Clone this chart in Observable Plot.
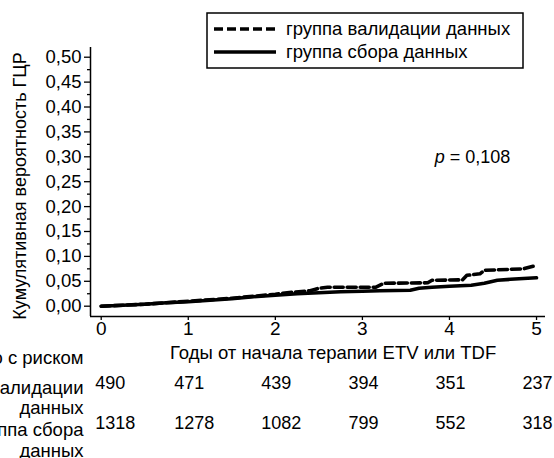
<!DOCTYPE html>
<html><head><meta charset="utf-8">
<script src="https://cdn.jsdelivr.net/npm/d3@7"></script>
<script src="https://cdn.jsdelivr.net/npm/@observablehq/plot@0.6"></script>
<style>
body{margin:0;background:#fff}
svg{font-family:"Liberation Sans",Arial,sans-serif}
</style>
</head><body><div id="chart"></div>
<script>
// ---- data ----
const seriesNames = ["группа валидации данных", "группа сбора данных"];
const validationT = [0, 0.5, 1.0, 1.5, 2.0, 2.2, 2.4, 2.5, 2.6, 3.15, 3.25, 3.75, 3.8, 4.15, 4.2, 4.35, 4.4, 4.85, 5.0];
const validationV = [0, 0.004, 0.010, 0.016, 0.024, 0.028, 0.031, 0.036, 0.038, 0.038, 0.046, 0.047, 0.052, 0.053, 0.062, 0.065, 0.072, 0.075, 0.082];
const collectionT = [0, 0.25, 0.5, 0.75, 1.0, 1.25, 1.5, 1.75, 2.0, 2.25, 2.5, 2.75, 3.0, 3.2, 3.55, 3.65, 3.8, 4.0, 4.25, 4.4, 4.55, 4.7, 5.0];
const collectionV = [0, 0.002, 0.004, 0.007, 0.009, 0.012, 0.015, 0.019, 0.022, 0.025, 0.027, 0.029, 0.030, 0.031, 0.032, 0.036, 0.038, 0.040, 0.042, 0.046, 0.052, 0.054, 0.057];
const riskYears = [0, 1, 2, 3, 4, 5];
const riskValidation = [490, 471, 439, 394, 351, 237];
const riskCollection = [1318, 1278, 1082, 799, 552, 318];
const riskRowLabels = ["Число с риском", "группа валидации\nданных", "группа сбора\nданных"];
const xTicks = [0, 1, 2, 3, 4, 5];
const yTicks = [0, 0.05, 0.10, 0.15, 0.20, 0.25, 0.30, 0.35, 0.40, 0.45, 0.50];
const yMinorTicks = [0.025, 0.075, 0.125, 0.175, 0.225, 0.275, 0.325, 0.375, 0.425, 0.475];
const xTitle = "Годы от начала терапии ETV или TDF";
const yTitle = "Кумулятивная вероятность ГЦР";
const pValue = "0,108";

const validation = validationT.map((t, i) => ({t, v: validationV[i]}));
const collection = collectionT.map((t, i) => ({t, v: collectionV[i]}));
const riskV = riskYears.map((t, i) => ({t, n: String(riskValidation[i])}));
const riskC = riskYears.map((t, i) => ({t, n: String(riskCollection[i])}));

const xDomain = [-0.123, 5.103];
const yDomain = [-0.0207, 0.5195];
const fmt = d => d.toFixed(2).replace(".", ",");

const plot = Plot.plot({
  width: 554, height: 458,
  marginLeft: 90, marginRight: 9, marginTop: 47, marginBottom: 142,
  x: {domain: xDomain},
  y: {domain: yDomain},
  style: {fontFamily: "Liberation Sans, Arial, sans-serif", fontSize: "18px", color: "#000", background: "#fff", overflow: "visible"},
  marks: [
    Plot.axisY(yMinorTicks, {tickSize: 3, tickFormat: () => "", label: null, strokeWidth: 1.3}),
    Plot.axisY(yTicks, {tickSize: 6, tickPadding: 3, tickFormat: fmt, label: null, fontSize: 18.5, strokeWidth: 1.3}),
    Plot.axisX(xTicks, {tickSize: 4, tickPadding: 1, label: null, fontSize: 19, strokeWidth: 1.3}),
    Plot.ruleX([xDomain[0]], {strokeWidth: 1.5}),
    Plot.ruleY([yDomain[0]], {strokeWidth: 1.5}),
    Plot.line(collection, {x: "t", y: "v", stroke: "#000", strokeWidth: 3.6}),
    Plot.line(validation, {x: "t", y: "v", stroke: "#000", strokeWidth: 3.6, strokeDasharray: "9,4"}),
    Plot.text(riskV.filter(d => d.t === 0), {x: "t", text: "n", frameAnchor: "bottom", textAnchor: "start", dx: -6, dy: 72, fontSize: 18}),
    Plot.text(riskV.filter(d => d.t !== 0), {x: "t", text: "n", frameAnchor: "bottom", textAnchor: "start", dx: -14, dy: 72, fontSize: 18}),
    Plot.text(riskC.filter(d => d.t === 0), {x: "t", text: "n", frameAnchor: "bottom", textAnchor: "start", dx: -6, dy: 112, fontSize: 18}),
    Plot.text(riskC.filter(d => d.t !== 0), {x: "t", text: "n", frameAnchor: "bottom", textAnchor: "start", dx: -14, dy: 112, fontSize: 18}),
    Plot.text([riskRowLabels[0]], {frameAnchor: "bottom-left", textAnchor: "end", dx: -7, dy: 47, fontSize: 18.5}),
    Plot.text([riskRowLabels[1]], {frameAnchor: "bottom-left", textAnchor: "end", lineAnchor: "top", lineHeight: 1.08, dx: -7, dy: 63, fontSize: 18.5}),
    Plot.text([riskRowLabels[2]], {frameAnchor: "bottom-left", textAnchor: "end", lineAnchor: "top", lineHeight: 1.12, dx: -7, dy: 105, fontSize: 18.5})
  ]
});
document.getElementById("chart").appendChild(plot);

const svg = d3.select(plot);
// x title
svg.append("text")
  .attr("x", 170).attr("y", 353).attr("dy", "0.35em")
  .attr("text-anchor", "start")
  .attr("font-size", 18.5).attr("fill", "#000")
  .text(xTitle);
// y title
svg.append("text")
  .attr("transform", "translate(20,186) rotate(-90)")
  .attr("text-anchor", "middle").attr("dy", "0.35em")
  .attr("font-size", 18).attr("fill", "#000")
  .text(yTitle);
// p-value
const sx = plot.scale("x"), sy = plot.scale("y");
const pt = svg.append("text")
  .attr("x", sx.apply(4.27)).attr("y", sy.apply(0.30))
  .attr("text-anchor", "middle").attr("dy", "0.35em")
  .attr("font-size", 18).attr("fill", "#000");
pt.append("tspan").attr("font-style", "italic").text("p");
pt.append("tspan").text(" = " + pValue);
// legend
const lg = svg.append("g");
lg.append("rect").attr("x", 207).attr("y", 13).attr("width", 316).attr("height", 55)
  .attr("fill", "#fff").attr("stroke", "#000").attr("stroke-width", 1.5);
[["9,4", 29], [null, 52]].forEach(([dash, y], i) => {
  const l = lg.append("line").attr("x1", 214).attr("x2", 276).attr("y1", y).attr("y2", y)
    .attr("stroke", "#000").attr("stroke-width", 3.6);
  if (dash) l.attr("stroke-dasharray", dash);
  lg.append("text").attr("x", 286).attr("y", y).attr("dy", "0.35em")
    .attr("text-anchor", "start")
    .attr("font-size", 18.5).attr("fill", "#000").text(seriesNames[i]);
});
</script>
</body></html>
